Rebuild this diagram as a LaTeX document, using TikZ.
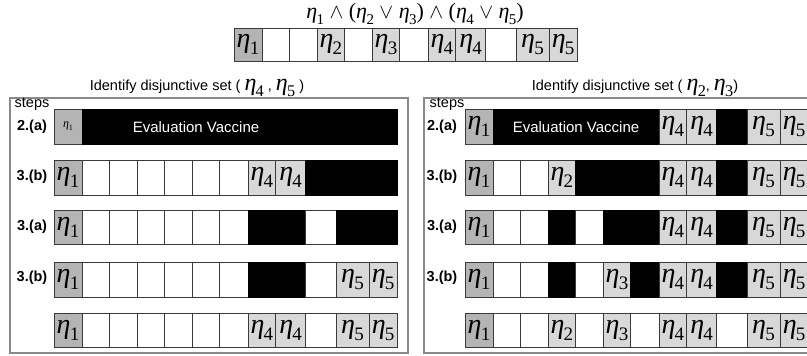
\documentclass[tikz,border=0pt]{standalone}
\usepackage{fontspec}
\usepackage{graphicx}
\setmainfont{Liberation Serif}
\setsansfont{Liberation Sans}
\definecolor{A}{HTML}{B4B4B4}
\definecolor{L}{HTML}{D8D8D8}
\definecolor{W}{HTML}{FFFFFF}
\definecolor{K}{HTML}{000000}
\definecolor{cB}{HTML}{3A3A3A}
\definecolor{cP}{HTML}{8A8A8A}
\newcommand\ee[1]{\textit{η}\kern-0.03em\raisebox{-0.25em}{\scalebox{0.68}{#1}}}
\newcommand\cellt[1]{\ifcase#1\or\ee1\or\ee2\or\ee3\or\ee4\or\ee5\or{\fontsize{12}{12}\selectfont\ee1}\fi}
\def\bnd{{0,28,55.7,83,110.7,138.3,165.7,194,221.7,251.7,282,315,343.3}}
\newcommand\barrow[5]{% #1 name, #2 x0, #3 ytop, #4 height, #5 list
  \foreach \f/\s [count=\i from 0] in {#5} {
    \pgfmathsetmacro\xa{#2+\bnd[\i]}
    \pgfmathsetmacro\cw{\bnd[\i+1]-\bnd[\i]}
    \node[cellbox, fill=\f, minimum width=\cw pt, minimum height=#4 pt, brd\f] (#1-\i) at (\xa,#3) {\cellt{\s}};
  }}
\begin{document}
\begin{tikzpicture}[x=1pt,y=-1pt,
  cellbox/.style={draw=cB, line width=0.9pt, inner sep=0pt, outer sep=0pt, anchor=north west,
    font=\rmfamily\fontsize{28}{28}\selectfont},
  brdA/.style={}, brdL/.style={}, brdW/.style={}, brdK/.style={draw=K},
  panel/.style={draw=cP, line width=1.6pt},
  evtext/.style={text=white, font=\sffamily\fontsize{15}{15}\selectfont, inner sep=0pt},
  steplbl/.style={font=\sffamily\bfseries\fontsize{14.5}{14.5}\selectfont, inner sep=0pt},
  stepsword/.style={font=\sffamily\fontsize{14.5}{14.5}\selectfont, inner sep=0pt},
  title/.style={font=\sffamily\fontsize{14.5}{14.5}\selectfont, inner sep=0pt},
  formula/.style={font=\rmfamily\fontsize{22}{22}\selectfont, inner sep=0pt}]
\useasboundingbox (0,0) rectangle (807,356);
\clip (0,0) rectangle (807,356);
% formula and top bar
\node[formula] (f) at (415,14) {\ee1 $\wedge$ (\ee2 $\vee$ \ee3) $\wedge$ (\ee4 $\vee$ \ee5)};
\barrow{top}{234}{28}{33}{A/1,W/0,W/0,L/2,W/0,L/3,W/0,L/4,L/4,W/0,L/5,L/5}
% titles
\node[title] (t1) at (197,88) {Identify disjunctive set ( {\rmfamily\fontsize{24}{24}\selectfont\ee4} , {\rmfamily\fontsize{24}{24}\selectfont\ee5} )};
\node[title] (t2) at (635,88) {Identify disjunctive set ( {\rmfamily\fontsize{24}{24}\selectfont\ee2}, {\rmfamily\fontsize{24}{24}\selectfont\ee3})};
% panels
\draw[panel] (10,98) rectangle (408,353);
\draw[panel] (424,98) rectangle (830,353);
\node[stepsword] (s1) at (32,104) {steps};
\node[stepsword] (s2) at (447,104) {steps};
% left rows
\barrow{l1}{54}{109}{35}{A/6,K/0,K/0,K/0,K/0,K/0,K/0,K/0,K/0,K/0,K/0,K/0}
\node[evtext] (ev1) at (196,127) {Evaluation Vaccine};
\barrow{l2}{54}{160}{35}{A/1,W/0,W/0,W/0,W/0,W/0,W/0,L/4,L/4,K/0,K/0,K/0}
\barrow{l3}{54}{210}{34}{A/1,W/0,W/0,W/0,W/0,W/0,W/0,K/0,K/0,W/0,K/0,K/0}
\barrow{l4}{54}{262}{35}{A/1,W/0,W/0,W/0,W/0,W/0,W/0,K/0,K/0,W/0,L/5,L/5}
\barrow{l5}{54}{313}{34}{A/1,W/0,W/0,W/0,W/0,W/0,W/0,L/4,L/4,W/0,L/5,L/5}
\node[steplbl] (la1) at (32,127) {2.(a)};
\node[steplbl] (la2) at (32,177) {3.(b)};
\node[steplbl] (la3) at (32,227) {3.(a)};
\node[steplbl] (la4) at (32,278) {3.(b)};
% right rows
\barrow{r1}{465}{109}{35}{A/1,K/0,K/0,K/0,K/0,K/0,K/0,L/4,L/4,K/0,L/5,L/5}
\node[evtext] (ev2) at (576,127) {Evaluation Vaccine};
\barrow{r2}{465}{160}{35}{A/1,W/0,W/0,L/2,K/0,K/0,K/0,L/4,L/4,K/0,L/5,L/5}
\barrow{r3}{465}{210}{34}{A/1,W/0,W/0,K/0,W/0,K/0,K/0,L/4,L/4,K/0,L/5,L/5}
\barrow{r4}{465}{262}{35}{A/1,W/0,W/0,K/0,W/0,L/3,K/0,L/4,L/4,K/0,L/5,L/5}
\barrow{r5}{465}{313}{34}{A/1,W/0,W/0,L/2,W/0,L/3,W/0,L/4,L/4,W/0,L/5,L/5}
\node[steplbl] (ra1) at (442,127) {2.(a)};
\node[steplbl] (ra2) at (442,177) {3.(b)};
\node[steplbl] (ra3) at (442,227) {3.(a)};
\node[steplbl] (ra4) at (442,278) {3.(b)};
\end{tikzpicture}
\end{document}
